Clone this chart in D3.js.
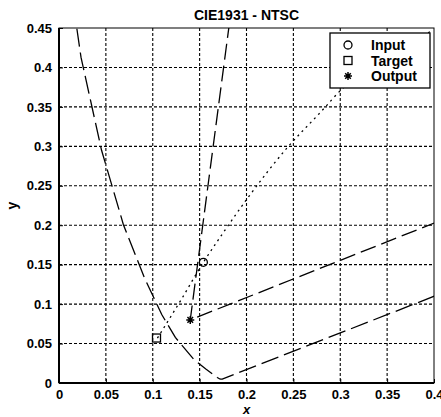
<!DOCTYPE html>
<html>
<head>
<meta charset="utf-8">
<script src="https://cdn.jsdelivr.net/npm/d3@7"></script>
<style>
  body { margin: 0; background: #fff; }
  text { font-family: "Liberation Sans", Arial, sans-serif; font-weight: bold; fill: #000; }
</style>
</head>
<body>
<svg id="chart" width="441" height="417"></svg>
<script>
// CIE 1931 spectral locus (380 nm .. 505 nm) then the purple line back to 700 nm
const locusX = [0.7347, 0.1741, 0.1738, 0.1733, 0.1726, 0.1714, 0.1689, 0.1644, 0.1566, 0.1440, 0.1241, 0.1096, 0.0913, 0.0687, 0.0454, 0.0235, 0.0082, 0.0039];
const locusY = [0.2653, 0.0050, 0.0049, 0.0048, 0.0048, 0.0051, 0.0069, 0.0109, 0.0177, 0.0297, 0.0578, 0.0868, 0.1327, 0.2007, 0.2950, 0.4127, 0.5384, 0.6548];

// NTSC primaries (R, G, B, back to R)
const ntscX = [0.67, 0.21, 0.14, 0.67];
const ntscY = [0.33, 0.71, 0.08, 0.33];

// dotted path
const pathX = [0.105, 0.130, 0.154, 0.172, 0.2016, 0.244, 0.278, 0.303, 0.350, 0.398];
const pathY = [0.057, 0.105, 0.153, 0.185, 0.235, 0.299, 0.342, 0.374, 0.412, 0.447];

const inputPt = [0.154, 0.153];
const targetPt = [0.104, 0.057];
const outputPt = [0.140, 0.080];

const xTicks = [0, 0.05, 0.1, 0.15, 0.2, 0.25, 0.3, 0.35, 0.4];
const yTicks = [0, 0.05, 0.1, 0.15, 0.2, 0.25, 0.3, 0.35, 0.4, 0.45];
const legendLabels = ["Input", "Target", "Output"];

const svg = d3.select("#chart");
const margin = { left: 59, top: 28, right: 7, bottom: 34 };
const w = 441 - margin.left - margin.right;
const h = 417 - margin.top - margin.bottom;

const x = d3.scaleLinear().domain([0, 0.4]).range([0, w]);
const y = d3.scaleLinear().domain([0, 0.45]).range([h, 0]);

const g = svg.append("g").attr("transform", `translate(${margin.left},${margin.top})`);

svg.append("defs").append("clipPath").attr("id", "clip")
  .append("rect").attr("width", w).attr("height", h);

// grid
g.append("g").selectAll("line").data(xTicks.slice(1, -1)).enter().append("line")
  .attr("x1", d => x(d)).attr("x2", d => x(d)).attr("y1", 0).attr("y2", h)
  .attr("stroke", "#000").attr("stroke-width", 1.1).attr("stroke-dasharray", "3,2");
g.append("g").selectAll("line").data(yTicks.slice(1, -1)).enter().append("line")
  .attr("y1", d => y(d)).attr("y2", d => y(d)).attr("x1", 0).attr("x2", w)
  .attr("stroke", "#000").attr("stroke-width", 1.1).attr("stroke-dasharray", "3,2");

// axes
const fmt = d => d3.format("")(+d.toFixed(2));
const xAxis = g.append("g").attr("transform", `translate(0,${h})`)
  .call(d3.axisBottom(x).tickValues(xTicks).tickSize(-4).tickPadding(7).tickFormat(fmt));
const yAxis = g.append("g")
  .call(d3.axisLeft(y).tickValues(yTicks).tickSize(-4).tickPadding(7).tickFormat(fmt));
[xAxis, yAxis].forEach(a => {
  a.select(".domain").remove();
  a.selectAll("text").style("font-size", "13px").style("font-family", "Liberation Sans, Arial, sans-serif").style("font-weight", "bold");
  a.selectAll("line").attr("stroke", "#000");
});

// box
g.append("rect").attr("width", w).attr("height", h)
  .attr("fill", "none").attr("stroke", "#000").attr("stroke-width", 1);
g.append("line").attr("x1", 0).attr("x2", 0).attr("y1", 0).attr("y2", h)
  .attr("stroke", "#000").attr("stroke-width", 2);
g.append("line").attr("x1", 0).attr("x2", w).attr("y1", h).attr("y2", h)
  .attr("stroke", "#000").attr("stroke-width", 2);

const plot = g.append("g").attr("clip-path", "url(#clip)");
const line = d3.line().x(d => x(d[0])).y(d => y(d[1]));

plot.append("path").datum(d3.zip(locusX, locusY))
  .attr("d", line).attr("fill", "none").attr("stroke", "#000")
  .attr("stroke-width", 1.3).attr("stroke-dasharray", "18,6");

plot.append("path").datum(d3.zip(ntscX, ntscY))
  .attr("d", line).attr("fill", "none").attr("stroke", "#000")
  .attr("stroke-width", 1.3).attr("stroke-dasharray", "16,6");

plot.append("path").datum(d3.zip(pathX, pathY))
  .attr("d", d3.line().curve(d3.curveMonotoneX).x(d => x(d[0])).y(d => y(d[1])))
  .attr("fill", "none").attr("stroke", "#000")
  .attr("stroke-width", 1.3).attr("stroke-dasharray", "2,4");

// markers
function circleMark(sel, cx, cy) {
  sel.append("circle").attr("cx", cx).attr("cy", cy).attr("r", 4)
    .attr("fill", "none").attr("stroke", "#000").attr("stroke-width", 1.3);
}
function squareMark(sel, cx, cy) {
  sel.append("rect").attr("x", cx - 4).attr("y", cy - 4).attr("width", 8).attr("height", 8)
    .attr("fill", "none").attr("stroke", "#000").attr("stroke-width", 1.3);
}
function starMark(sel, cx, cy) {
  const r = 4;
  const p = `M${cx - r},${cy}L${cx + r},${cy}M${cx},${cy - r}L${cx},${cy + r}` +
    `M${cx - r * 0.7},${cy - r * 0.7}L${cx + r * 0.7},${cy + r * 0.7}` +
    `M${cx - r * 0.7},${cy + r * 0.7}L${cx + r * 0.7},${cy - r * 0.7}`;
  sel.append("path").attr("d", p).attr("stroke", "#000").attr("stroke-width", 1.5);
}
circleMark(g, x(inputPt[0]), y(inputPt[1]));
squareMark(g, x(targetPt[0]), y(targetPt[1]));
starMark(g, x(outputPt[0]), y(outputPt[1]));

// legend
const lg = svg.append("g").attr("transform", "translate(330,33)");
lg.append("rect").attr("width", 100).attr("height", 55)
  .attr("fill", "#fff").attr("stroke", "#000").attr("stroke-width", 1.3);
const markFns = [circleMark, squareMark, starMark];
legendLabels.forEach((lab, i) => {
  const cy = 12 + i * 15.5;
  markFns[i](lg, 18, cy);
  lg.append("text").attr("x", 41).attr("y", cy + 5)
    .style("font-size", "14px").text(lab);
});

// titles
svg.append("text").attr("x", margin.left + w / 2).attr("y", 20)
  .attr("text-anchor", "middle").style("font-size", "14px").text("CIE1931 - NTSC");
svg.append("text").attr("x", margin.left + w / 2).attr("y", 414)
  .attr("text-anchor", "middle").style("font-size", "13px").style("font-style", "italic").text("x");
svg.append("text").attr("transform", `translate(17,${margin.top + h / 2}) rotate(-90)`)
  .attr("text-anchor", "middle").style("font-size", "14px").text("y");
</script>
</body>
</html>
